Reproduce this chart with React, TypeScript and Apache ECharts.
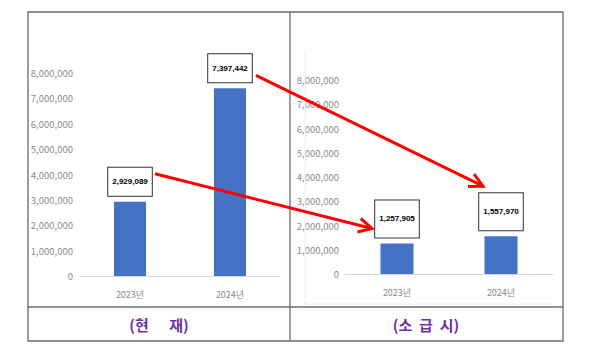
import React, { useEffect, useRef } from "react";
import * as echarts from "echarts";

const categories = ["2023년", "2024년"];
const currentValues = [2929089, 7397442];
const retroValues = [1257905, 1557970];
const yMax = 8000000;
const yInterval = 1000000;
const panelTitles = ["(현      재)", "(소  급  시)"];

const fmt = (v: number) => v.toLocaleString("en-US");

const AXIS_FONT = "'Liberation Sans Narrow', 'Noto Sans CJK KR', sans-serif";

export default function App() {
  const ref = useRef<HTMLDivElement>(null);
  useEffect(() => {
    if (!ref.current) return;
    const chart = echarts.init(ref.current, undefined, { renderer: "svg" });
    const yAxisBase = (gridIndex: number, margin: number) => ({
      type: "value" as const,
      gridIndex,
      min: 0,
      max: yMax,
      interval: yInterval,
      splitLine: { show: false },
      axisLine: { show: false },
      axisTick: { show: false },
      axisLabel: {
        color: "#8a8a8a",
        fontSize: 9.5,
        fontFamily: AXIS_FONT,
        margin,
        formatter: (v: number) => fmt(v),
      },
    });
    const xAxisBase = (gridIndex: number) => ({
      type: "category" as const,
      gridIndex,
      data: categories,
      axisLine: { lineStyle: { color: "#d9d9d9", width: 1 } },
      axisTick: { show: false },
      axisLabel: { color: "#8a8a8a", fontSize: 9, fontFamily: AXIS_FONT, margin: 14 },
    });
    const labelBase = (padV: number) => ({
      show: true,
      position: "top" as const,
      distance: 6,
      formatter: (p: any) => fmt(p.value),
      backgroundColor: "#ffffff",
      borderColor: "#333333",
      borderWidth: 1,
      padding: [padV, 4, padV, 4],
      fontSize: 8,
      lineHeight: 10,
      fontWeight: "bold" as const,
      fontFamily: "'Liberation Sans', Arial, sans-serif",
      color: "#000",
    });
    chart.setOption({
      animation: false,
      backgroundColor: "#ffffff",
      grid: [
        { left: 80, top: 73, width: 200, height: 203 },
        { left: 345, top: 80, width: 208, height: 194 },
      ],
      xAxis: [xAxisBase(0), xAxisBase(1)],
      yAxis: [yAxisBase(0, 7), yAxisBase(1, 6)],
      series: [
        {
          type: "bar",
          xAxisIndex: 0,
          yAxisIndex: 0,
          data: currentValues,
          barWidth: 32,
          itemStyle: { color: "#4472C4" },
          label: labelBase(9),
        },
        {
          type: "bar",
          xAxisIndex: 1,
          yAxisIndex: 1,
          data: retroValues,
          barWidth: 33,
          itemStyle: { color: "#4472C4" },
          label: labelBase(13.5),
        },
      ],
    });

    const top = (si: number, i: number, v: number) =>
      chart.convertToPixel({ seriesIndex: si }, [i, v]) as number[];
    const red = "#ff0000";
    const arrow = (a: number[], b: number[]) => {
      const ang = Math.atan2(b[1] - a[1], b[0] - a[0]);
      const L = 15;
      const spread = 0.48;
      const p1 = [b[0] - L * Math.cos(ang - spread), b[1] - L * Math.sin(ang - spread)];
      const p2 = [b[0] - L * Math.cos(ang + spread), b[1] - L * Math.sin(ang + spread)];
      return [
        { type: "line", shape: { x1: a[0], y1: a[1], x2: b[0], y2: b[1] }, style: { stroke: red, lineWidth: 3 }, z: 100 },
        { type: "polyline", shape: { points: [p1, b, p2] }, style: { stroke: red, lineWidth: 3, fill: null }, z: 100 },
      ];
    };
    const l0 = top(0, 0, currentValues[0]);
    const l1 = top(0, 1, currentValues[1]);
    const r0 = top(1, 0, retroValues[0]);
    const r1 = top(1, 1, retroValues[1]);
    const a1 = arrow([l0[0] + 25, l0[1] - 28], [r0[0] - 25, r0[1] - 15]);
    const a2 = arrow([l1[0] + 26, l1[1] - 13], [r1[0] - 18, r1[1] - 50]);

    chart.setOption({
      graphic: [
        { type: "rect", shape: { x: 28, y: 12, width: 535, height: 329 }, style: { fill: null, stroke: "#6b6b6b", lineWidth: 1.3 }, z: 50 },
        { type: "line", shape: { x1: 290, y1: 12, x2: 290, y2: 341 }, style: { stroke: "#6b6b6b", lineWidth: 1.3 }, z: 50 },
        { type: "line", shape: { x1: 28, y1: 307, x2: 563, y2: 307 }, style: { stroke: "#6b6b6b", lineWidth: 1.3 }, z: 50 },
        { type: "line", shape: { x1: 305, y1: 50, x2: 305, y2: 304 }, style: { stroke: "#ececec", lineWidth: 1 }, z: 1 },
        { type: "line", shape: { x1: 305, y1: 304, x2: 555, y2: 304 }, style: { stroke: "#ececec", lineWidth: 1 }, z: 1 },
        {
          type: "text", x: 159, y: 324, z: 50,
          style: { text: panelTitles[0], fill: "#7030A0", font: "bold 15px 'Noto Sans CJK KR', sans-serif", align: "center", verticalAlign: "middle" },
        },
        {
          type: "text", x: 426, y: 324, z: 50,
          style: { text: panelTitles[1], fill: "#7030A0", font: "bold 15px 'Noto Sans CJK KR', sans-serif", align: "center", verticalAlign: "middle" },
        },
        ...a1,
        ...a2,
      ],
    });
    return () => chart.dispose();
  }, []);
  return (
    <div
      ref={ref}
      style={{ position: "absolute", left: 0, top: 0, width: 600, height: 353 }}
    />
  );
}
